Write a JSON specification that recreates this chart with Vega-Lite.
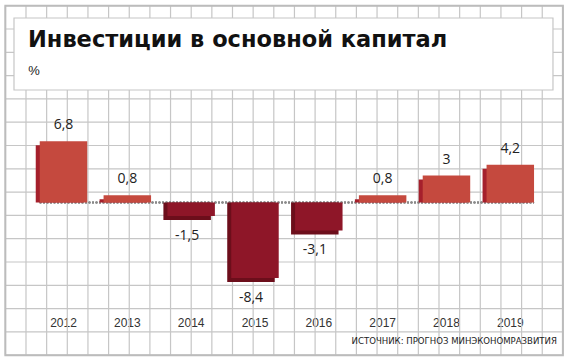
{
  "$schema": "https://vega.github.io/schema/vega-lite/v6.json",
  "width": 570,
  "height": 363,
  "autosize": {"type": "none"},
  "padding": 0,
  "background": "white",
  "config": {
    "view": {"stroke": null},
    "locale": {"number": {"decimal": ",", "thousands": " ", "grouping": [3], "currency": ["", ""], "minus": "-"}}
  },
  "datasets": {
    "bars": [
      {"year": "2012", "value": 6.8},
      {"year": "2013", "value": 0.8},
      {"year": "2014", "value": -1.5},
      {"year": "2015", "value": -8.4},
      {"year": "2016", "value": -3.1},
      {"year": "2017", "value": 0.8},
      {"year": "2018", "value": 3},
      {"year": "2019", "value": 4.2}
    ],
    "vlines": [
      {"i": 0}, {"i": 1}, {"i": 2}, {"i": 3}, {"i": 4}, {"i": 5}, {"i": 6}, {"i": 7}, {"i": 8}, {"i": 9},
      {"i": 10}, {"i": 11}, {"i": 12}, {"i": 13}, {"i": 14}, {"i": 15}, {"i": 16}, {"i": 17}, {"i": 18}, {"i": 19},
      {"i": 20}, {"i": 21}, {"i": 22}, {"i": 23}, {"i": 24}, {"i": 25}, {"i": 26}, {"i": 27}
    ],
    "hlines": [
      {"j": 0}, {"j": 1}, {"j": 2}, {"j": 3}, {"j": 4}, {"j": 5}, {"j": 6}, {"j": 7},
      {"j": 8}, {"j": 9}, {"j": 10}, {"j": 11}, {"j": 12}, {"j": 13}, {"j": 14}, {"j": 15}
    ]
  },
  "layer": [
    {
      "layer": [
        {
          "data": {"name": "vlines"},
          "mark": {"type": "rule", "color": "#c6c6c6", "strokeWidth": 1.2},
          "encoding": {
            "x": {"field": "i", "type": "quantitative", "scale": {"domain": [-0.259, 27.344], "nice": false, "zero": false}, "axis": null},
            "y": {"datum": 0, "type": "quantitative", "scale": {"domain": [-0.245, 15.335], "nice": false, "zero": false, "reverse": true}, "axis": null},
            "y2": {"datum": 15}
          }
        },
        {
          "data": {"name": "hlines"},
          "mark": {"type": "rule", "color": "#c6c6c6", "strokeWidth": 1.2},
          "encoding": {
            "y": {"field": "j", "type": "quantitative", "scale": {"domain": [-0.245, 15.335], "nice": false, "zero": false, "reverse": true}, "axis": null},
            "x": {"datum": 0, "type": "quantitative", "scale": {"domain": [-0.259, 27.344], "nice": false, "zero": false}, "axis": null},
            "x2": {"datum": 27}
          }
        },
        {
          "data": {"values": [{}]},
          "mark": {"type": "rect", "filled": false, "stroke": "#bcbcbc", "strokeWidth": 2},
          "encoding": {
            "x": {"datum": 0, "type": "quantitative", "scale": {"domain": [-0.259, 27.344], "nice": false, "zero": false}, "axis": null},
            "x2": {"datum": 27},
            "y": {"datum": 0, "type": "quantitative", "scale": {"domain": [-0.245, 15.335], "nice": false, "zero": false, "reverse": true}, "axis": null},
            "y2": {"datum": 15}
          }
        },
        {
          "data": {"values": [{}]},
          "mark": {"type": "rect", "fill": "white", "stroke": "#c6c6c6", "strokeWidth": 1.2},
          "encoding": {
            "x": {"datum": 0.419, "type": "quantitative", "scale": {"domain": [-0.259, 27.344], "nice": false, "zero": false}, "axis": null},
            "x2": {"datum": 26.52},
            "y": {"datum": 0.528, "type": "quantitative", "scale": {"domain": [-0.245, 15.335], "nice": false, "zero": false, "reverse": true}, "axis": null},
            "y2": {"datum": 3.618}
          }
        },
        {
          "data": {"values": [{}]},
          "mark": {"type": "text", "text": "Инвестиции в основной капитал", "font": "DejaVu Sans", "fontWeight": "bold", "fontSize": 22.5, "color": "#111111", "align": "left", "baseline": "alphabetic"},
          "encoding": {
            "x": {"datum": 1.097, "type": "quantitative", "scale": {"domain": [-0.259, 27.344], "nice": false, "zero": false}, "axis": null},
            "y": {"datum": 1.76, "type": "quantitative", "scale": {"domain": [-0.245, 15.335], "nice": false, "zero": false, "reverse": true}, "axis": null}
          }
        },
        {
          "data": {"values": [{}]},
          "mark": {"type": "text", "text": "%", "font": "Liberation Sans", "fontSize": 13, "color": "#222222", "align": "left", "baseline": "alphabetic"},
          "encoding": {
            "x": {"datum": 1.11, "type": "quantitative", "scale": {"domain": [-0.259, 27.344], "nice": false, "zero": false}, "axis": null},
            "y": {"datum": 2.974, "type": "quantitative", "scale": {"domain": [-0.245, 15.335], "nice": false, "zero": false, "reverse": true}, "axis": null}
          }
        },
        {
          "data": {"values": [{}]},
          "mark": {"type": "text", "text": "ИСТОЧНИК: ПРОГНОЗ МИНЭКОНОМРАЗВИТИЯ", "font": "DejaVu Sans Condensed, Liberation Sans, sans-serif", "fontSize": 9.5, "color": "#222222", "align": "right", "baseline": "middle"},
          "encoding": {
            "x": {"datum": 26.71, "type": "quantitative", "scale": {"domain": [-0.259, 27.344], "nice": false, "zero": false}, "axis": null},
            "y": {"datum": 14.39, "type": "quantitative", "scale": {"domain": [-0.245, 15.335], "nice": false, "zero": false, "reverse": true}, "axis": null}
          }
        }
      ]
    },
    {
      "data": {"name": "bars"},
      "layer": [
        {
          "mark": {"type": "rule", "color": "#8a8a8a", "strokeWidth": 1.3, "strokeDash": [1.5, 2]},
          "encoding": {
            "x": {"datum": "2012", "type": "ordinal", "bandPosition": 0, "scale": {"type": "band", "paddingInner": 0.256, "paddingOuter": 0.593, "align": 0.525}, "axis": {"title": null, "orient": "bottom", "offset": -41, "domain": false, "ticks": false, "grid": false, "labelPadding": 0, "labelBaseline": "middle", "labelAngle": 0, "labelFont": "Liberation Sans", "labelFontSize": 12, "labelColor": "#333333"}},
            "x2": {"datum": "2019", "bandPosition": 1},
            "y": {"datum": 0, "type": "quantitative", "scale": {"domain": [-17.83, 22.5], "nice": false, "zero": false}, "axis": null}
          }
        },
        {
          "mark": {"type": "bar", "xOffset": -4, "yOffset": 4},
          "encoding": {
            "x": {"field": "year", "type": "ordinal", "scale": {"type": "band", "paddingInner": 0.256, "paddingOuter": 0.593, "align": 0.525}, "axis": {"title": null, "orient": "bottom", "offset": -41, "domain": false, "ticks": false, "grid": false, "labelPadding": 0, "labelBaseline": "middle", "labelAngle": 0, "labelFont": "Liberation Sans", "labelFontSize": 12, "labelColor": "#333333"}},
            "y": {"field": "value", "type": "quantitative", "scale": {"domain": [-17.83, 22.5], "nice": false, "zero": false}, "axis": null},
            "y2": {"datum": 0},
            "color": {"condition": {"test": "datum.value > 0", "value": "#a5202c"}, "value": "#6c0e1b"}
          }
        },
        {
          "mark": {"type": "bar"},
          "encoding": {
            "x": {"field": "year", "type": "ordinal", "scale": {"type": "band", "paddingInner": 0.256, "paddingOuter": 0.593, "align": 0.525}, "axis": {"title": null, "orient": "bottom", "offset": -41, "domain": false, "ticks": false, "grid": false, "labelPadding": 0, "labelBaseline": "middle", "labelAngle": 0, "labelFont": "Liberation Sans", "labelFontSize": 12, "labelColor": "#333333"}},
            "y": {"field": "value", "type": "quantitative", "scale": {"domain": [-17.83, 22.5], "nice": false, "zero": false}, "axis": null},
            "y2": {"datum": 0},
            "color": {"condition": {"test": "datum.value > 0", "value": "#c5493e"}, "value": "#8e1628"}
          }
        },
        {
          "transform": [{"filter": "datum.value > 0"}],
          "mark": {"type": "text", "font": "Open Sans", "fontSize": 14, "color": "#222222", "baseline": "middle", "dy": -16},
          "encoding": {
            "x": {"field": "year", "type": "ordinal", "scale": {"type": "band", "paddingInner": 0.256, "paddingOuter": 0.593, "align": 0.525}, "axis": {"title": null, "orient": "bottom", "offset": -41, "domain": false, "ticks": false, "grid": false, "labelPadding": 0, "labelBaseline": "middle", "labelAngle": 0, "labelFont": "Liberation Sans", "labelFontSize": 12, "labelColor": "#333333"}},
            "y": {"field": "value", "type": "quantitative", "scale": {"domain": [-17.83, 22.5], "nice": false, "zero": false}, "axis": null},
            "text": {"field": "value", "type": "quantitative", "format": "~g"}
          }
        },
        {
          "transform": [{"filter": "datum.value < 0"}],
          "mark": {"type": "text", "font": "Open Sans", "fontSize": 14, "color": "#222222", "baseline": "middle", "dy": 20, "dx": -4},
          "encoding": {
            "x": {"field": "year", "type": "ordinal", "scale": {"type": "band", "paddingInner": 0.256, "paddingOuter": 0.593, "align": 0.525}, "axis": {"title": null, "orient": "bottom", "offset": -41, "domain": false, "ticks": false, "grid": false, "labelPadding": 0, "labelBaseline": "middle", "labelAngle": 0, "labelFont": "Liberation Sans", "labelFontSize": 12, "labelColor": "#333333"}},
            "y": {"field": "value", "type": "quantitative", "scale": {"domain": [-17.83, 22.5], "nice": false, "zero": false}, "axis": null},
            "text": {"field": "value", "type": "quantitative", "format": "~g"}
          }
        }
      ]
    }
  ],
  "resolve": {"scale": {"x": "independent", "y": "independent"}, "axis": {"x": "independent", "y": "independent"}}
}
